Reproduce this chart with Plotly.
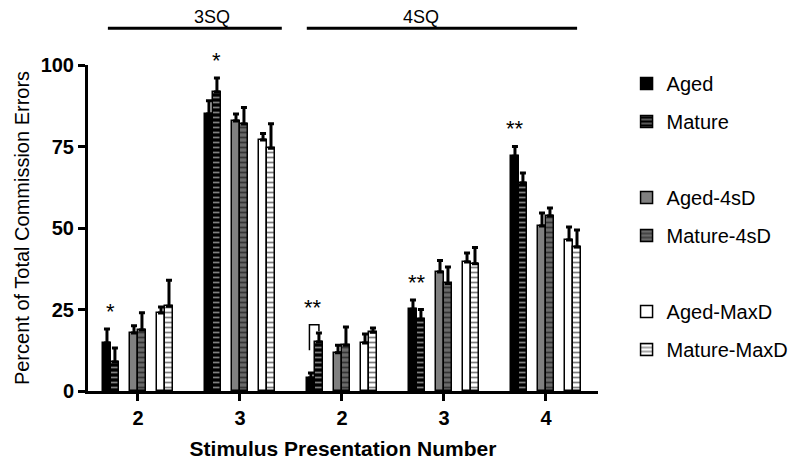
from plotly.graph_objects import Bar, Figure

# data
tick_labels = ["2", "3", "2", "3", "4"]
series_names = ["Aged", "Mature", "Aged-4sD", "Mature-4sD", "Aged-MaxD", "Mature-MaxD"]

aged = [14.7, 85.0, 4.0, 25.1, 72.0]
aged_err = [4.3, 4.0, 1.5, 2.8, 3.0]
mature = [8.9, 91.7, 15.0, 22.0, 63.8]
mature_err = [4.3, 4.3, 2.8, 3.0, 3.1]
aged_4sd = [17.8, 82.8, 11.7, 36.5, 50.6]
aged_4sd_err = [2.2, 2.2, 2.3, 3.5, 4.0]
mature_4sd = [18.7, 81.9, 14.0, 33.0, 53.7]
mature_4sd_err = [5.3, 5.1, 5.6, 5.0, 2.4]
aged_maxd = [23.9, 77.0, 14.7, 39.6, 46.3]
aged_maxd_err = [1.9, 2.0, 2.8, 2.7, 4.0]
mature_maxd = [26.0, 74.5, 18.0, 39.0, 44.2]
mature_maxd_err = [8.0, 7.5, 1.3, 5.0, 5.2]

values = [aged, mature, aged_4sd, mature_4sd, aged_maxd, mature_maxd]
errors = [aged_err, mature_err, aged_4sd_err, mature_4sd_err, aged_maxd_err, mature_maxd_err]

# styles
fills = ["black", "black", "#808080", "#6a6a6a", "white", "white"]
stripes = [None, "white", None, "black", None, "black"]
bar_w = 0.078
offsets = [-0.304, -0.226, -0.039, 0.039, 0.226, 0.304]
FONT = "Liberation Sans, Arial, sans-serif"


def spacer(name):
    # empty legend entry, only used to open a gap between legend pairs
    return Bar(x=[None], y=[None], name=name, legendgroup=name, showlegend=True,
               marker=dict(color="rgba(0,0,0,0)", line=dict(width=0)))


fig = Figure()
for i in range(6):
    x = [k + offsets[i] for k in range(len(tick_labels))]
    marker = dict(color=fills[i], line=dict(color="black", width=1.5))
    if stripes[i]:
        marker["pattern"] = dict(shape="-", fgcolor=stripes[i], bgcolor=fills[i],
                                 size=5, solidity=0.35, fillmode="overlay")
    fig.add_trace(Bar(
        x=x, y=values[i], width=bar_w, name=series_names[i],
        legendgroup=series_names[i], marker=marker,
        error_y=dict(type="data", array=errors[i], arrayminus=[0] * 5,
                     symmetric=False, color="black", thickness=3, width=3),
    ))
    if i in (1, 3):
        fig.add_trace(spacer(" " * (i + 1)))


def bar_x(i, k):
    return k + offsets[i]


def bar_top(i, k):
    return values[i][k] + errors[i][k]


# significance marks
star_font = dict(size=22, family=FONT)
annotations = [
    dict(x=(bar_x(0, 0) + bar_x(1, 0)) / 2, y=bar_top(0, 0) + 1, text="*"),
    dict(x=bar_x(1, 1), y=bar_top(1, 1) + 1, text="*"),
    dict(x=(bar_x(0, 2) + bar_x(1, 2)) / 2 - 0.02, y=bar_top(1, 2) + 3.5, text="**"),
    dict(x=(bar_x(0, 3) + bar_x(1, 3)) / 2, y=bar_top(0, 3) + 1, text="**"),
    dict(x=bar_x(0, 4), y=bar_top(0, 4) + 1, text="**"),
]
for a in annotations:
    a.update(showarrow=False, yanchor="bottom", font=star_font)

# top group labels
annotations.append(dict(xref="paper", yref="paper", x=0.204, y=1.147, text="3SQ",
                        showarrow=False, yanchor="middle", font=dict(size=18)))
annotations.append(dict(xref="paper", yref="paper", x=0.653, y=1.147, text="4SQ",
                        showarrow=False, yanchor="middle", font=dict(size=18)))

shapes = [
    dict(type="line", xref="paper", yref="paper", x0=0.039, x1=0.380, y0=1.113, y1=1.113,
         line=dict(color="black", width=3)),
    dict(type="line", xref="paper", yref="paper", x0=0.429, x1=0.959, y0=1.113, y1=1.113,
         line=dict(color="black", width=3)),
]
# bracket over 4SQ stimulus 2
bx0 = bar_x(0, 2) - 0.015
bx1 = bar_x(1, 2)
by = bar_top(1, 2) + 2.5
shapes.append(dict(type="path", xref="x", yref="y",
                   path=f"M {bx0},{bar_top(0, 2) + 7} L {bx0},{by} L {bx1},{by} L {bx1},{bar_top(1, 2) + 0.5}",
                   line=dict(color="black", width=1.5)))

fig.update_layout(
    width=800, height=461,
    margin=dict(l=80, r=210, t=57, b=78, autoexpand=False),
    plot_bgcolor="white", paper_bgcolor="white",
    barmode="overlay", bargap=0,
    font=dict(family=FONT, color="black"),
    showlegend=True,
    legend=dict(x=1.056, y=1.003, xanchor="left", yanchor="top", maxheight=430,
                font=dict(size=20), tracegroupgap=9, traceorder="grouped"),
    annotations=annotations,
    shapes=shapes,
)
fig.update_xaxes(
    range=[-0.49, 4.51], tickvals=list(range(5)), ticktext=tick_labels,
    showline=True, linecolor="black", linewidth=3, ticks="outside", ticklen=7,
    tickwidth=3, tickcolor="black", showgrid=False, zeroline=False, automargin=False,
    tickfont=dict(size=20, family=FONT, weight="bold"),
    title=dict(text="<b>Stimulus Presentation Number</b>", font=dict(size=21), standoff=14),
)
fig.update_yaxes(
    range=[0, 100], tickvals=[0, 25, 50, 75, 100],
    showline=True, linecolor="black", linewidth=3, ticks="outside", ticklen=7,
    tickwidth=3, tickcolor="black", showgrid=False, zeroline=False, automargin=False,
    tickfont=dict(size=20, family=FONT, weight="bold"),
    title=dict(text="Percent of Total Commission Errors", font=dict(size=20), standoff=6),
)

fig.write_html("out.html")
